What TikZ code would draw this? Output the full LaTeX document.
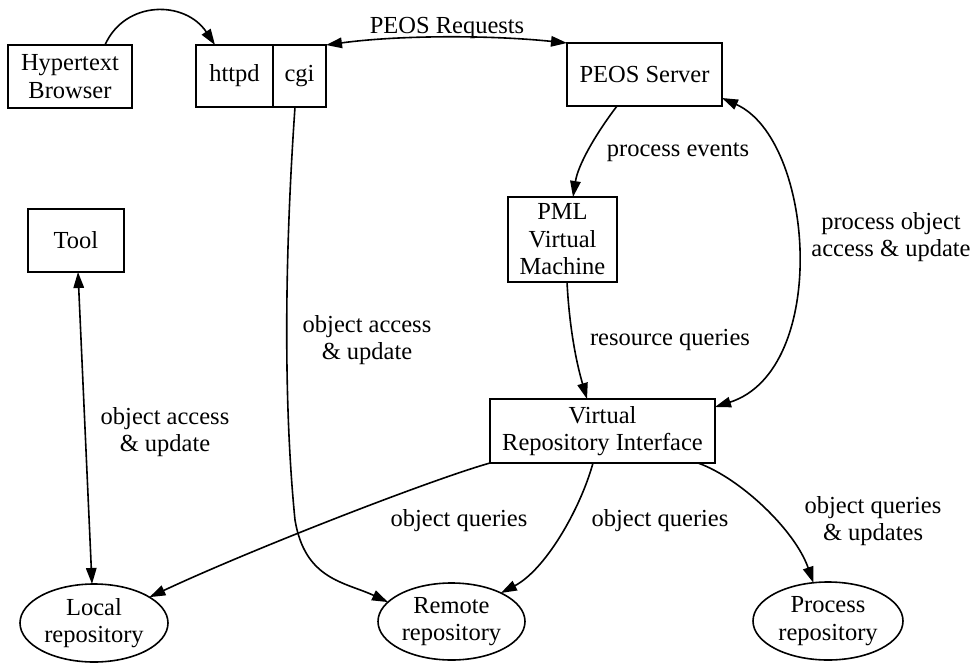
\documentclass[tikz,border=0pt]{standalone}
\usepackage{fontspec}
\setmainfont{Liberation Serif}
\usetikzlibrary{shapes.geometric,arrows.meta,calc}
\begin{document}
\begin{tikzpicture}[x=1pt,y=1pt,
  every node/.style={font=\fontsize{24.5}{27.5}\selectfont, align=center, inner sep=0pt, outer sep=0pt},
  box/.style={draw, line width=1.8pt},
  repo/.style={draw, ellipse, line width=1.6pt},
  lbl/.style={},
  tip/.tip={Triangle[length=16pt,width=10.5pt]},
  arr/.style={line width=1.6pt, -tip},
  darr/.style={line width=1.6pt, tip-tip},
]
\useasboundingbox (0,0) rectangle (976,-663);

% nodes
\node[box, minimum width=124pt, minimum height=63pt] (browser) at (70,-76.5) {Hypertext\\Browser};
\node[box, minimum width=77pt, minimum height=62pt] (httpd) at (234.5,-76) {httpd};
\node[box, minimum width=53pt, minimum height=62pt] (cgi) at (299.5,-76) {cgi};
\node[box, minimum width=155pt, minimum height=63pt] (peos) at (644.5,-74.5) {PEOS Server};
\node[box, minimum width=109pt, minimum height=85pt] (pml) at (562.5,-239.5) {PML\\Virtual\\Machine};
\node[box, minimum width=96pt, minimum height=63pt] (tool) at (76,-240.5) {Tool};
\node[box, minimum width=225pt, minimum height=64pt] (vri) at (602.5,-431) {Virtual\\Repository Interface};
\node[repo, minimum width=148pt, minimum height=78pt] (local) at (94,-623) {Local\\repository};
\node[repo, minimum width=147pt, minimum height=77pt] (remote) at (451.5,-621.5) {Remote\\repository};
\node[repo, minimum width=150pt, minimum height=78pt] (process) at (828,-621) {Process\\repository};

% labels
\node[lbl] (lreq) at (447,-28) {PEOS Requests};
\node[lbl] (levents) at (678,-152) {process events};
\node[lbl] (lres) at (670,-340) {resource queries};
\node[lbl] (lpoa) at (891,-237) {process object\\access \& update};
\node[lbl] (lcgi) at (367,-340) {object access\\\& update};
\node[lbl] (ltool) at (165,-432) {object access\\\& update};
\node[lbl] (loq1) at (459,-521) {object queries};
\node[lbl] (loq2) at (660,-521) {object queries};
\node[lbl] (loq3) at (873,-521) {object queries\\\& updates};

% connectors
\draw[arr] ([xshift=35pt]browser.north) .. controls (125,0) and (185,0) .. ([xshift=-19.5pt]httpd.north);
\draw[darr] (cgi.north east) .. controls (400,-35) and (490,-35) .. (peos.north west);
\draw[arr] ([xshift=-27.5pt]peos.south) .. controls (595,-135) and (578,-165) .. ([xshift=10.5pt]pml.north);
\draw[darr] ([yshift=8pt]peos.south east) .. controls (815,-140) and (830,-370) .. ([yshift=-8pt]vri.north east);
\draw[arr] ([xshift=4.5pt]pml.south) .. controls (570,-340) and (580,-375) .. ([xshift=-15.5pt]vri.north);
\draw[arr] ([xshift=-4.5pt]cgi.south) .. controls (283,-280) and (285,-420) .. (295,-520)
  .. controls (305,-580) and (345,-582) .. (remote.163);
\draw[darr] ([xshift=2pt]tool.south) -- ([xshift=-2pt]local.north);
\draw[arr] (vri.south west) .. controls (430,-480) and (250,-550) .. (local.25);
\draw[arr] ([xshift=-9.5pt]vri.south) .. controls (580,-510) and (545,-570) .. (remote.30);
\draw[arr] ([xshift=95.5pt]vri.south) .. controls (740,-478) and (795,-530) .. (process.111);
\end{tikzpicture}
\end{document}
